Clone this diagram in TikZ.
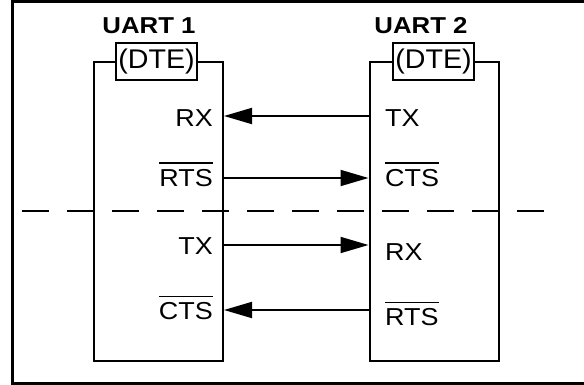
\documentclass[tikz,border=0pt]{standalone}
\usepackage{fontspec}
\setmainfont{Liberation Sans}
\newfontfamily\labfont[FakeStretch=1.1]{Liberation Sans}
\newfontfamily\dtefont[FakeStretch=1.06]{Liberation Sans}
\newfontfamily\titfont[FakeStretch=1.12]{Liberation Sans}
\usetikzlibrary{arrows.meta}
\newcommand\ovl[1]{\vbox{\hrule height 1.6pt\kern 5pt\hbox{#1}}}
\begin{document}
\begin{tikzpicture}[x=1pt,y=-1pt,
  frame/.style={draw=black,line width=3pt},
  uartbox/.style={draw=black,line width=2pt,minimum width=129pt,minimum height=299pt,inner sep=0pt},
  dtebox/.style={draw=black,line width=2pt,fill=white,minimum width=81pt,minimum height=37pt,inner sep=0pt,font=\dtefont\fontsize{27}{29}\selectfont},
  title/.style={anchor=base,inner sep=0pt,font=\titfont\bfseries\fontsize{23}{25}\selectfont},
  sigL/.style={anchor=base east,inner sep=0pt,font=\labfont\fontsize{24.5}{27}\selectfont},
  sigR/.style={anchor=base west,inner sep=0pt,font=\labfont\fontsize{24.5}{27}\selectfont},
  sig/.style={draw=black,line width=1.8pt,-{Triangle[length=28pt,width=16pt]}},
  sep/.style={draw=black,line width=2pt,dash pattern=on 27pt off 18pt}
]
\useasboundingbox (0,0) rectangle (584,385);
\clip (0,0) rectangle (584,385);
\draw[frame] (12,2) rectangle (600,383.5);

\node[uartbox] (u1) at (158.5,211.5) {};
\node[uartbox] (u2) at (434,211.5) {};
\node[dtebox] (d1) at (156.5,61.5) {(DTE)};
\node[dtebox] (d2) at (433.5,61.5) {(DTE)};
\node[title] (t1) at (149,33.5) {UART 1};
\node[title] (t2) at (421,33.5) {UART 2};

\node[sigL] (rx1) at (213,126.5) {RX};
\node[sigL] (rts1) at (213,186) {\ovl{RTS}};
\node[sigL] (tx1) at (213,254.5) {TX};
\node[sigL] (cts1) at (213,319.5) {\ovl{CTS}};

\node[sigR] (tx2) at (385,126.5) {TX};
\node[sigR] (cts2) at (385,186) {\ovl{CTS}};
\node[sigR] (rx2) at (385,260.5) {RX};
\node[sigR] (rts2) at (385,325.5) {\ovl{RTS}};

\coordinate (l1) at (u1.east |- 0,116);
\coordinate (r1) at (u2.west |- 0,116);
\coordinate (l2) at (u1.east |- 0,178);
\coordinate (r2) at (u2.west |- 0,178);
\coordinate (l3) at (u1.east |- 0,245);
\coordinate (r3) at (u2.west |- 0,245);
\coordinate (l4) at (u1.east |- 0,310);
\coordinate (r4) at (u2.west |- 0,310);
\draw[sig] (r1) -- (l1);
\draw[sig] (l2) -- (r2);
\draw[sig] (l3) -- (r3);
\draw[sig] (r4) -- (l4);

\coordinate (sepL) at (22,211);
\coordinate (sepR) at (552,211);
\draw[sep] (sepL) -- (sepR);
\end{tikzpicture}
\end{document}
